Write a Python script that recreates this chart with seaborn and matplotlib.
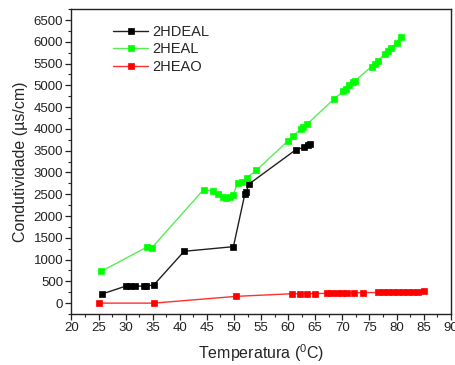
import matplotlib
matplotlib.use("Agg")
import matplotlib.pyplot as plt
import seaborn as sns
import pandas as pd

# 2HDEAL
t_hdeal = [25.7, 30.1, 30.8, 31.7, 33.4, 33.8, 35.2, 40.8, 49.9, 52.0, 52.3, 52.7, 61.4, 63.0, 63.6, 64.1]
c_hdeal = [212, 393, 393, 386, 393, 393, 416, 1190, 1296, 2500, 2560, 2727, 3520, 3580, 3630, 3655]
# 2HEAL
t_heal = [25.5, 34.0, 34.8, 44.4, 46.1, 47.0, 48.0, 48.6, 49.2, 49.8, 50.7, 51.4, 52.4, 54.1,
          60.0, 60.9, 62.3, 62.8, 63.5, 68.4, 70.2, 70.7, 71.3, 72.0, 72.3, 75.4, 76.0, 76.6,
          77.8, 78.4, 79.0, 80.0, 80.9]
c_heal = [730, 1290, 1265, 2607, 2575, 2516, 2440, 2410, 2430, 2480, 2757, 2790, 2880, 3046,
          3728, 3841, 3993, 4046, 4107, 4680, 4864, 4910, 5016, 5076, 5100, 5432, 5490, 5560,
          5730, 5790, 5860, 5980, 6110]
# 2HEAO
t_heao = [25.1, 35.2, 50.4, 60.8, 62.2, 63.5, 64.9, 67.1, 68.0, 69.0, 69.9, 70.8, 72.2, 73.8,
          76.6, 77.6, 78.5, 79.4, 80.3, 81.2, 82.2, 83.1, 84.0, 85.0]
c_heao = [0, 0, 155, 216, 216, 218, 220, 225, 228, 230, 232, 234, 236, 240,
          245, 247, 250, 252, 254, 256, 258, 262, 266, 270]

series = [
    ("2HDEAL", t_hdeal, c_hdeal, "#202020", "#000000"),
    ("2HEAL", t_heal, c_heal, "#55ee55", "#00ff00"),
    ("2HEAO", t_heao, c_heao, "#ff3030", "#ff0000"),
]

sns.set_theme(style="ticks")
plt.rcParams['font.family'] = ['Liberation Sans', 'DejaVu Sans']
plt.rcParams['mathtext.fontset'] = 'custom'
plt.rcParams['mathtext.rm'] = 'Liberation Sans'
plt.rcParams['mathtext.it'] = 'Liberation Sans'

fig = plt.figure(figsize=(4.55, 3.65), dpi=100)
ax = fig.add_axes([0.157, 0.1397, 0.8335, 0.8353])

for name, t, c, lc, mc in series:
    df = pd.DataFrame({"T": t, "C": c})
    sns.lineplot(data=df, x="T", y="C", ax=ax, sort=False, estimator=None,
                 color=lc, lw=1.0, marker="s", markersize=4.6,
                 markerfacecolor=mc, markeredgecolor=mc, markeredgewidth=0.5,
                 label=name)

ax.set_xlim(20, 90)
ax.set_ylim(-250, 6750)
ax.set_xticks(range(20, 91, 5))
ax.set_xticks([x + 2.5 for x in range(20, 90, 5)], minor=True)
ax.set_yticks(range(0, 6501, 500))
ax.set_yticks(range(-250, 6751, 500), minor=True)
ax.tick_params(axis='both', which='major', direction='out', length=4, width=0.9,
               labelsize=9.5, colors='#222222', pad=2)
ax.tick_params(axis='both', which='minor', direction='out', length=2, width=0.8)
for s in ax.spines.values():
    s.set_visible(True)
    s.set_linewidth(1.0)
    s.set_color('#222222')

ax.set_xlabel("Temperatura ($^{0}$C)", fontsize=11.5, labelpad=6)
ax.set_ylabel("Condutividade (µs/cm)", fontsize=11.5, labelpad=4)

leg = ax.legend(loc="upper left", bbox_to_anchor=(0.11, 0.947), frameon=False,
                fontsize=10.5, handlelength=2.4, handletextpad=0.3, numpoints=1,
                labelspacing=0.22, borderaxespad=0, borderpad=0)

fig.savefig("out.png", dpi=100)
